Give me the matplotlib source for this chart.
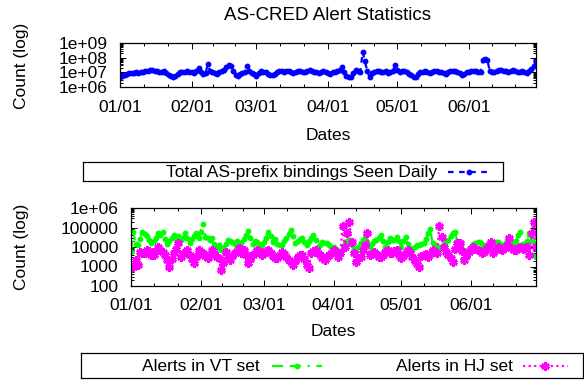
import matplotlib
matplotlib.use('Agg')
import matplotlib.pyplot as plt
import matplotlib.dates as mdates
from matplotlib.lines import Line2D
from matplotlib.ticker import LogLocator, FixedLocator, NullFormatter
import pandas as pd

plt.rcParams['font.family'] = ['Liberation Sans', 'DejaVu Sans']

# daily data, 01/01 .. 06/30
dias = pd.date_range('2009-01-01', periods=181, freq='D')

# Total AS-prefix bindings seen daily
bindings = [
    4.5e6, 5.5e6, 7e6, 8e6, 9e6, 8.5e6, 9.5e6, 1e7, 9e6, 1.1e7,
    1e7, 1.2e7, 1.3e7, 1.5e7, 1.4e7, 1.2e7, 1.3e7, 1.1e7, 1e7, 1.2e7,
    9e6, 7e6, 6e6, 4.5e6, 6e6, 8e6, 1e7, 1.1e7, 1e7, 1.2e7,
    1.1e7, 1e7, 9e6, 1.2e7, 2e7, 1e7, 8e6, 9e6, 3.5e7, 1.2e7,
    1.1e7, 9e6, 8e6, 1e7, 1.2e7, 1.5e7, 2.2e7, 3e7, 2.5e7, 1.2e7,
    7e6, 6e6, 8e6, 9e6, 1e7, 2.6e7, 1.2e7, 9e6, 8e6, 6e6,
    9e6, 1.2e7, 1.1e7, 1e7, 8e6, 7e6, 6.5e6, 8e6, 1.1e7, 1.3e7,
    1.2e7, 1.1e7, 1.3e7, 1.2e7, 1e7, 9e6, 1.1e7, 1.2e7, 1.3e7, 1.1e7,
    1e7, 1.2e7, 1.4e7, 1.2e7, 1.1e7, 1e7, 9e6, 1.1e7, 1.2e7, 1e7,
    9e6, 8e6, 1e7, 1.1e7, 1.2e7, 1.4e7, 2.2e7, 1.1e7, 6e6, 5e6,
    4.8e6, 9e6, 1.5e7, 1.2e7, 1.1e7, 2.5e8, 5.5e7, 1.2e7, 4.5e6, 9e6,
    1.1e7, 1.3e7, 1.2e7, 1e7, 1.1e7, 1.2e7, 9e6, 1e7, 1.2e7, 3e7,
    1.4e7, 1.1e7, 1.3e7, 1.2e7, 1e7, 8e6, 7e6, 5e6, 4.6e6, 8e6,
    1e7, 1.1e7, 1.2e7, 1e7, 9e6, 1.1e7, 1.3e7, 1.2e7, 1.1e7, 1e7,
    9e6, 8e6, 1e7, 1.2e7, 1.3e7, 1.2e7, 1.1e7, 9e6, 7e6, 8e6,
    1e7, 1.1e7, 1.2e7, 1.3e7, 1.2e7, 1e7, 1.1e7, 7e7, 7.5e7, 6.5e7,
    1.2e7, 1e7, 1.1e7, 1.3e7, 1.4e7, 1.5e7, 1.3e7, 1.2e7, 1.1e7, 1.3e7,
    1.4e7, 1.2e7, 1e7, 1.1e7, 1.2e7, 1e7, 9e6, 1.3e7, 1.8e7, 2.5e7,
    6e7,
]

# Alerts in VT set
vt = [
    5700, 60000, 15000, 12000, 25000, 60000, 45000, 35000, 22000, 16000,
    20000, 30000, 50000, 40000, 60000, 25000, 14000, 20000, 28000, 40000,
    30000, 35000, 22000, 30000, 50000, 28000, 16000, 25000, 35000, 50000,
    30000, 60000, 160000, 34000, 28000, 23000, 30000, 15000, 10000, 12000,
    7000, 9000, 15000, 23000, 20000, 18000, 15000, 20000, 13000, 17000,
    25000, 40000, 70000, 30000, 15000, 20000, 19000, 15000, 12000, 18000,
    30000, 60000, 35000, 19000, 25000, 15000, 12700, 13000, 20000, 30000,
    45000, 74000, 35000, 15500, 20000, 25000, 28000, 18000, 12700, 20000,
    30000, 41000, 22000, 10400, 13000, 18000, 15500, 15500, 12000, 10000,
    10400, 8000, 6000, 4700, 9000, 15500, 20000, 23000, 12000, 8000,
    5700, 10000, 15500, 22000, 34000, 18000, 10400, 15000, 20000, 23000,
    30000, 41000, 20000, 10400, 18000, 28000, 24000, 23000, 34000, 20000,
    10400, 20000, 34000, 15000, 9000, 7000, 10000, 12700, 12700, 14000,
    15500, 25000, 50000, 81000, 15500, 12000, 9000, 10000, 8600, 15000,
    20000, 23000, 35000, 50000, 60000, 20000, 10400, 8000, 6500, 5700,
    8000, 10400, 14000, 16000, 19000, 19000, 14000, 10400, 9000, 8600,
    8600, 12000, 19000, 19000, 14000, 10400, 15000, 22000, 28000, 18000,
    12700, 20000, 40000, 60000, 15000, 8600, 20000, 50000, 25000, 15500,
    3200,
]

# Alerts in HJ set
hj = [
    800, 1000, 2100, 1200, 5700, 4700, 5000, 7000, 6000, 4000,
    3900, 6000, 10000, 7000, 5700, 4000, 2100, 1000, 2500, 4700,
    8000, 15500, 3200, 4500, 5700, 7000, 4000, 2500, 1500, 3000,
    7000, 5000, 4700, 3500, 2600, 4000, 7000, 4700, 3000, 2600,
    660, 1500, 5700, 3500, 2100, 3500, 4700, 6000, 8600, 5000,
    7000, 4000, 1460, 2500, 3900, 4700, 7000, 6000, 3900, 5000,
    6000, 7000, 4700, 3500, 2600, 2600, 4000, 5700, 4500, 3000,
    2100, 1800, 1200, 2000, 3200, 4000, 3900, 2500, 1200, 800,
    4700, 6000, 7000, 5000, 3900, 2800, 2100, 3000, 3900, 5000,
    7000, 5500, 3200, 4700, 115000, 10000, 50000, 190000, 19000, 4700,
    1700, 2600, 3000, 7000, 12700, 50000, 3900, 4500, 5700, 4500,
    3000, 3200, 3900, 5500, 7000, 5000, 4700, 6000, 7000, 4000,
    2600, 3500, 4700, 7000, 5000, 3200, 2000, 1300, 1000, 3500,
    3900, 4500, 3200, 4500, 7000, 5500, 4700, 120000, 34000, 10400,
    5700, 4000, 2600, 1800, 8000, 15500, 15500, 6000, 2100, 3500,
    5700, 8000, 10400, 8000, 7000, 6000, 4700, 5500, 8600, 12000,
    19000, 4700, 7000, 10400, 8000, 7000, 9000, 12000, 28000, 8600,
    7000, 7000, 8600, 10400, 8000, 8600, 10400, 3900, 50000, 200000,
    10400,
]

etiquetas_x = ['01/01', '02/01', '03/01', '04/01', '05/01', '06/01']
ticks_top = [1e6, 1e7, 1e8, 1e9]
labels_top = ['1e+06', '1e+07', '1e+08', '1e+09']
ticks_bot = [1e2, 1e3, 1e4, 1e5, 1e6]
labels_bot = ['100', '1000', '10000', '100000', '1e+06']

W, H = 584, 381
fig = plt.figure(figsize=(W / 100, H / 100), dpi=100)
FS = 12.5

HJ_MARK = dict(marker=(6, 2, 0), markersize=6, markeredgewidth=2.0)

def px_axes(x0, y0, x1, y1):
    return fig.add_axes([x0 / W, 1 - y1 / H, (x1 - x0) / W, (y1 - y0) / H])

def estilo(ax, ticks, labels, ylim):
    ax.set_yscale('log')
    ax.set_ylim(*ylim)
    ax.set_yticks(ticks)
    ax.set_yticklabels(labels, fontsize=FS)
    ax.yaxis.set_minor_locator(LogLocator(base=10, subs=range(2, 10), numticks=20))
    ax.yaxis.set_minor_formatter(NullFormatter())
    ax.set_xlim(dias[0], dias[-1])
    meses = pd.date_range('2009-01-01', periods=7, freq='MS')
    ax.xaxis.set_major_locator(FixedLocator(mdates.date2num(meses[:6])))
    ax.set_xticklabels(etiquetas_x, fontsize=FS)
    menores = []
    for a, b in zip(meses[:-1], meses[1:]):
        d = (b - a) / 3
        menores += [a + d, a + 2 * d]
    ax.xaxis.set_minor_locator(FixedLocator(mdates.date2num(menores)))
    ax.tick_params(which='both', direction='in', top=True, right=True, width=0.7)
    ax.tick_params(which='major', length=4, pad=9)
    ax.tick_params(which='minor', length=2.5)
    for s in ax.spines.values():
        s.set_linewidth(0.9)

# ---- grafica de arriba
ax1 = px_axes(120, 43, 536, 87)
ax1.plot(dias, bindings, color='#0000ff', linestyle=(0, (2.5, 2.5)), lw=1.6,
         marker='o', markersize=3.2)
estilo(ax1, ticks_top, labels_top, (1e6, 1e9))

fig.text(328 / W, 1 - 15 / H, 'AS-CRED Alert Statistics', ha='center', va='center', fontsize=13.5)
fig.text(22 / W, 1 - 66 / H, 'Count (log)', rotation=90, ha='center', va='center', fontsize=FS)
fig.text(328 / W, 1 - 135 / H, 'Dates', ha='center', va='center', fontsize=FS)

# ---- grafica de abajo
ax2 = px_axes(131, 208, 536, 286)
ax2.plot(dias, vt, color='#00ff00', linestyle=(0, (5, 3, 5, 3, 1, 3)), lw=1.6,
         marker='o', markersize=3.2)
ax2.plot(dias, hj, color='#ff00ff', linestyle=(0, (1, 1.5)), lw=1.6, **HJ_MARK)
estilo(ax2, ticks_bot, labels_bot, (1e2, 1e6))

fig.text(22 / W, 1 - 247 / H, 'Count (log)', rotation=90, ha='center', va='center', fontsize=FS)
fig.text(333 / W, 1 - 332 / H, 'Dates', ha='center', va='center', fontsize=FS)

# ---- cajas de leyenda
def caja(x0, y0, x1, y1):
    lg = px_axes(x0, y0, x1, y1)
    lg.set_xlim(x0, x1)
    lg.set_ylim(0, 1)
    lg.set_xticks([])
    lg.set_yticks([])
    for s in lg.spines.values():
        s.set_linewidth(0.9)
    return lg

lg1 = caja(83, 162, 503, 181)
lg1.text(437, 0.45, 'Total AS-prefix bindings Seen Daily', ha='right', va='center', fontsize=FS)
lg1.add_line(Line2D([448, 490], [0.5, 0.5], color='#0000ff', linestyle=(0, (2.5, 2.5)), lw=1.6))
lg1.plot([469], [0.5], color='#0000ff', marker='o', markersize=3.2)

lg2 = caja(81, 353, 583, 378)
lg2.text(260, 0.45, 'Alerts in VT set', ha='right', va='center', fontsize=FS)
lg2.add_line(Line2D([272, 322], [0.5, 0.5], color='#00ff00', linestyle=(0, (5, 3, 5, 3, 1, 3)), lw=1.6))
lg2.plot([297], [0.5], color='#00ff00', marker='o', markersize=3.2)
lg2.text(513, 0.45, 'Alerts in HJ set', ha='right', va='center', fontsize=FS)
lg2.add_line(Line2D([523, 568], [0.5, 0.5], color='#ff00ff', linestyle=(0, (1, 1.5)), lw=1.6))
lg2.plot([545], [0.5], color='#ff00ff', **HJ_MARK)

fig.savefig('out.png', dpi=100)
